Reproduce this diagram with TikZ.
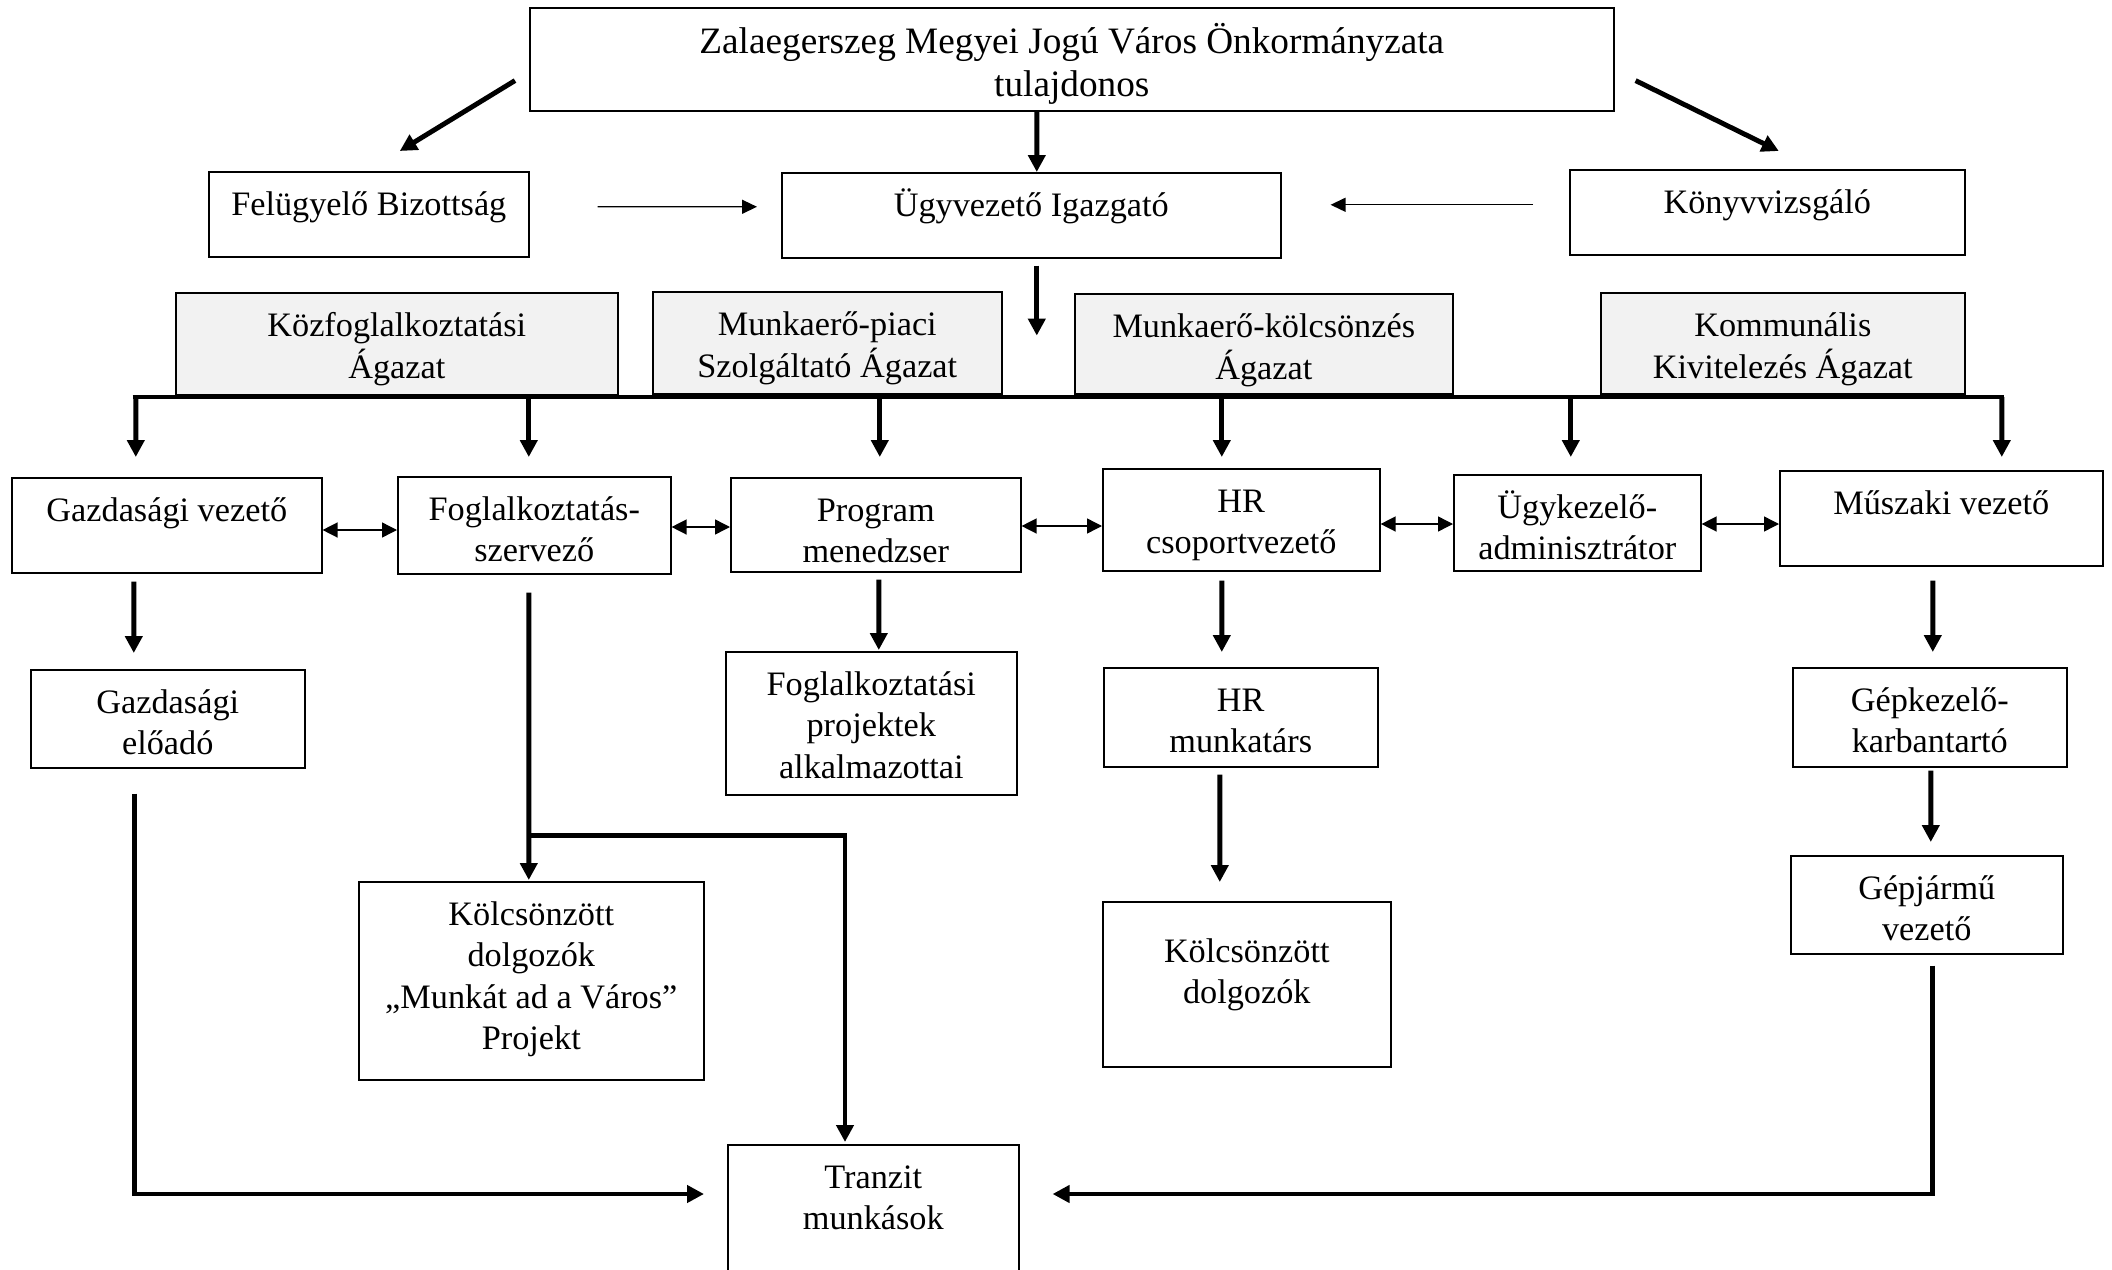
\documentclass[tikz,border=0pt]{standalone}
\usepackage{fontspec}
\setmainfont{Liberation Serif}
\usetikzlibrary{arrows.meta}
\newcommand{\normaltext}{\fontsize{9.75}{11.7}\selectfont}
\newcommand{\titletext}{\fontsize{10.6}{12.2}\selectfont}
\newcommand{\boxlines}[1]{\begin{tabular}[t]{@{}c@{}}#1\end{tabular}}

\begin{document}
\begin{tikzpicture}
[box/.style={draw, line width=0.45pt, anchor=north west, inner sep=0pt, text height=0.44cm, font=\normaltext},
 sector/.style={box, fill=gray!10},
 bigline/.style={line width=1.4pt},
 bigarrow/.style={line width=1.4pt, -{Triangle[length=0.17cm,width=0.17cm]}},
 thinarrow/.style={line width=0.4pt, -{Triangle[length=0.15cm,width=0.14cm]}},
 twoway/.style={line width=0.4pt, {Triangle[length=0.15cm,width=0.15cm]}-{Triangle[length=0.15cm,width=0.15cm]}}]
\useasboundingbox (0,0) rectangle (21.12,-12.70);
\clip (0,0) rectangle (21.12,-12.70);

% top level
\node[box, font=\titletext, text height=0.46cm, text depth=0.57cm, minimum width=10.84cm] (owner) at (5.29,-0.07) {\boxlines{Zalaegerszeg Megyei Jogú Város Önkormányzata\\tulajdonos}};
\node[box, text depth=0.41cm, minimum width=3.20cm] (felugyelo) at (2.08,-1.71) {Felügyelő Bizottság};
\node[box, text depth=0.41cm, minimum width=4.99cm] (ugyvezeto) at (7.81,-1.72) {Ügyvezető Igazgató};
\node[box, text depth=0.41cm, minimum width=3.95cm] (konyv) at (15.69,-1.69) {Könyvvizsgáló};

% sectors
\node[sector, text depth=0.58cm, minimum width=4.42cm] (kozfog) at (1.75,-2.92) {\boxlines{Közfoglalkoztatási\\Ágazat}};
\node[sector, text depth=0.58cm, minimum width=3.49cm] (munkapiac) at (6.52,-2.91) {\boxlines{Munkaerő-piaci\\Szolgáltató Ágazat}};
\node[sector, text depth=0.56cm, minimum width=3.78cm] (kolcsonzes) at (10.74,-2.93) {\boxlines{Munkaerő-kölcsönzés\\Ágazat}};
\node[sector, text depth=0.57cm, minimum width=3.64cm] (kommunalis) at (16.00,-2.92) {\boxlines{Kommunális\\Kivitelezés Ágazat}};

% leaders
\node[box, text depth=0.51cm, minimum width=3.10cm] (gazdvez) at (0.11,-4.77) {Gazdasági vezető};
\node[box, text depth=0.53cm, minimum width=2.73cm] (foglszerv) at (3.97,-4.76) {\boxlines{Foglalkoztatás-\\szervező}};
\node[box, text depth=0.50cm, minimum width=2.90cm] (progmen) at (7.30,-4.77) {\boxlines{Program\\menedzser}};
\node[box, text depth=0.58cm, minimum width=2.77cm] (hrcsop) at (11.02,-4.68) {\boxlines{HR\\csoportvezető}};
\node[box, text depth=0.52cm, minimum width=2.47cm] (ugykez) at (14.53,-4.74) {\boxlines{Ügykezelő-\\adminisztrátor}};
\node[box, text depth=0.51cm, minimum width=3.23cm] (muszaki) at (17.79,-4.70) {Műszaki vezető};

% staff
\node[box, text depth=0.54cm, minimum width=2.74cm] (gazdelo) at (0.30,-6.69) {\boxlines{Gazdasági\\előadó}};
\node[box, text depth=0.99cm, minimum width=2.91cm] (foglproj) at (7.25,-6.51) {\boxlines{Foglalkoztatási\\projektek\\alkalmazottai}};
\node[box, text depth=0.55cm, minimum width=2.74cm] (hrmunk) at (11.03,-6.67) {\boxlines{HR\\munkatárs}};
\node[box, text depth=0.55cm, minimum width=2.74cm] (gepkez) at (17.92,-6.67) {\boxlines{Gépkezelő-\\karbantartó}};
\node[box, text depth=1.54cm, minimum width=3.45cm] (kolcsvaros) at (3.58,-8.81) {\boxlines{Kölcsönzött\\dolgozók\\„Munkát ad a Város”\\Projekt}};
\node[box, text height=0.61cm, text depth=1.04cm, minimum width=2.88cm] (kolcsdolg) at (11.02,-9.01) {\boxlines{Kölcsönzött\\dolgozók}};
\node[box, text depth=0.54cm, minimum width=2.72cm] (gepjarmu) at (17.90,-8.55) {\boxlines{Gépjármű\\vezető}};
\node[box, text depth=1.16cm, minimum width=2.91cm] (tranzit) at (7.27,-11.44) {\boxlines{Tranzit\\munkások}};

% owner and control
\draw[bigarrow] ([shift={(-0.14,0.31)}]owner.south west) -- ([shift={(0.31,0.20)}]felugyelo.north);
\draw[bigarrow] ([xshift=-0.35cm]owner.south) -- ([xshift=0.055cm]ugyvezeto.north);
\draw[bigarrow] ([shift={(0.21,0.31)}]owner.south east) -- ([shift={(0.115,0.18)}]konyv.north);
\draw[thinarrow] ([shift={(0.68,0.075)}]felugyelo.east) -- ([shift={(-0.24,0.085)}]ugyvezeto.west);
\draw[thinarrow] ([shift={(-0.36,0.075)}]konyv.west) -- ([shift={(0.49,0.105)}]ugyvezeto.east);
\draw[bigarrow] ([shift={(0.055,-0.07)}]ugyvezeto.south) -- ([shift={(0.055,-0.77)}]ugyvezeto.south);

% bus under the sectors
\coordinate (busL) at (1.325,-3.97);
\coordinate (busR) at (20.035,-3.97);
\draw[bigline] (busL) -- (busR);
\foreach \to/\dx/\dy in {gazdvez/-0.31/0.20, foglszerv/-0.055/0.19, progmen/0.04/0.20, hrcsop/-0.195/0.11, ugykez/-0.065/0.17, muszaki/0.605/0.13}
\draw[bigarrow] ([xshift=\dx cm]\to.north |- busL) -- ([shift={(\dx,\dy)}]\to.north);

% between leaders
\foreach \from/\to/\y in {gazdvez/foglszerv/-5.30, foglszerv/progmen/-5.27, progmen/hrcsop/-5.26, hrcsop/ugykez/-5.24, ugykez/muszaki/-5.24}
\draw[twoway] (\from.east |- 0,\y) -- (\to.west |- 0,\y);

% down the columns
\draw[bigarrow] ([shift={(-0.33,-0.08)}]gazdvez.south) -- ([shift={(-0.34,0.16)}]gazdelo.north);
\draw[bigarrow] ([shift={(0.03,-0.07)}]progmen.south) -- ([shift={(0.075,0.01)}]foglproj.north);
\draw[bigarrow] ([shift={(-0.195,-0.09)}]hrcsop.south) -- ([shift={(-0.19,0.15)}]hrmunk.north);
\draw[bigarrow] ([shift={(-0.085,-0.14)}]muszaki.south) -- ([shift={(0.03,0.15)}]gepkez.north);
\draw[bigarrow] ([shift={(0.01,-0.03)}]gepkez.south) -- ([shift={(0.04,0.13)}]gepjarmu.north);
\draw[bigarrow] ([shift={(-0.21,-0.07)}]hrmunk.south) -- ([shift={(-0.27,0.19)}]kolcsdolg.north);
\draw[bigarrow] ([shift={(-0.055,-0.18)}]foglszerv.south) -- ([shift={(-0.025,0.01)}]kolcsvaros.north);
\draw[bigarrow] ([shift={(-0.055,-2.61)}]foglszerv.south) -| ([shift={(1.18,0.02)}]tranzit.north west);

% into the transit workers
\draw[bigarrow] ([shift={(-0.33,-0.25)}]gazdelo.south) |- ([shift={(-0.23,-0.50)}]tranzit.north west);
\draw[bigarrow] ([shift={(0.06,-0.11)}]gepjarmu.south) |- ([shift={(0.33,-0.50)}]tranzit.north east);
\end{tikzpicture}
\end{document}
